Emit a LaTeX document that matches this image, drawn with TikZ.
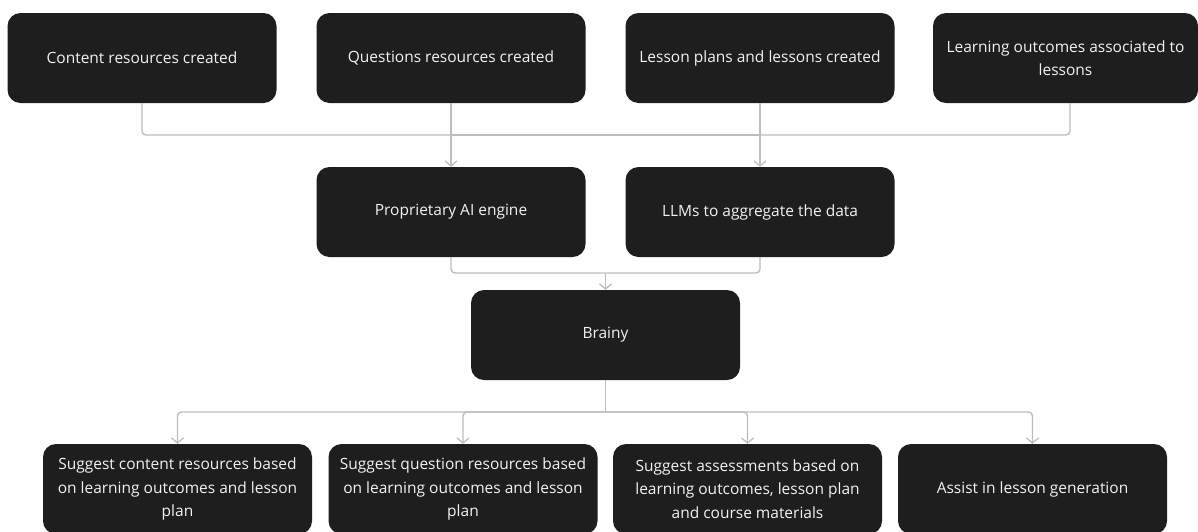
\documentclass[tikz,border=0pt]{standalone}
\usepackage{fontspec}
\setmainfont{Open Sans}
\usetikzlibrary{arrows.meta}
\definecolor{boxfill}{HTML}{1E1E1E}
\definecolor{boxtext}{HTML}{F2F2F2}
\definecolor{wire}{HTML}{BDBDBD}
\tikzset{%
  stepbox/.style = {shape=rectangle, rounded corners=13pt,%
                    fill=boxfill, text=boxtext, align=center,%
                    minimum width=269pt, minimum height=90pt,%
                    inner sep=0pt, font=\fontsize{15.5}{23.5}\selectfont},%
  lastbox/.style = {stepbox, minimum width=265pt},%
  wire/.style    = {draw=wire, line width=1.4pt, rounded corners=4pt},%
  feed/.style    = {wire, -{Straight Barb[length=5pt,width=12pt,line width=1.3pt]}}%
}

\begin{document}
\begin{tikzpicture}[x=1pt,y=-1pt]
	\clip (0,0) rectangle (1198,531);
	\fill[white] (0,0) rectangle (1198,531);
	% sources
	\node [stepbox] (content)   at (142,58)    {Content resources created};
	\node [stepbox] (questions) at (451,58)    {Questions resources created};
	\node [stepbox] (lessons)   at (760,58)    {Lesson plans and lessons created};
	\node [lastbox] (outcomes)  at (1065.5,58) {Learning outcomes associated to\\lessons};
	% engines
	\node [stepbox] (engine) at (451,212) {Proprietary AI engine};
	\node [stepbox] (llm)    at (760,212) {LLMs to aggregate the data};
	\node [stepbox] (brainy) at (605.5,335) {Brainy};
	% results
	\node [stepbox] (sugcontent)  at (177.5,489) {Suggest content resources based\\on learning outcomes and lesson\\plan};
	\node [stepbox] (sugquestion) at (463,489)   {Suggest question resources based\\on learning outcomes and lesson\\plan};
	\node [stepbox] (sugassess)   at (747.5,489) {Suggest assessments based on\\learning outcomes, lesson plan\\and course materials};
	\node [stepbox] (assist)      at (1032.5,489) {Assist in lesson generation};
	% top connectors
	\draw [wire] (content.south) |- (451,135);
	\draw [wire] (outcomes.south -| 1070,0) |- (760,135);
	\draw [wire] (451,135) -- (760,135);
	\draw [feed] (questions) -- (engine);
	\draw [feed] (lessons) -- (llm);
	% middle connectors
	\draw [wire] (engine.south) |- (605.5,273);
	\draw [wire] (llm.south) |- (605.5,273);
	\draw [feed] (605.5,273) -- (brainy);
	% bottom connectors
	\draw [wire] (brainy.south) -- (605.5,412);
	\draw [feed] (605.5,412) -| (sugcontent);
	\draw [feed] (605.5,412) -| (sugquestion);
	\draw [feed] (605.5,412) -| (sugassess);
	\draw [feed] (605.5,412) -| (assist);
\end{tikzpicture}
\end{document}
